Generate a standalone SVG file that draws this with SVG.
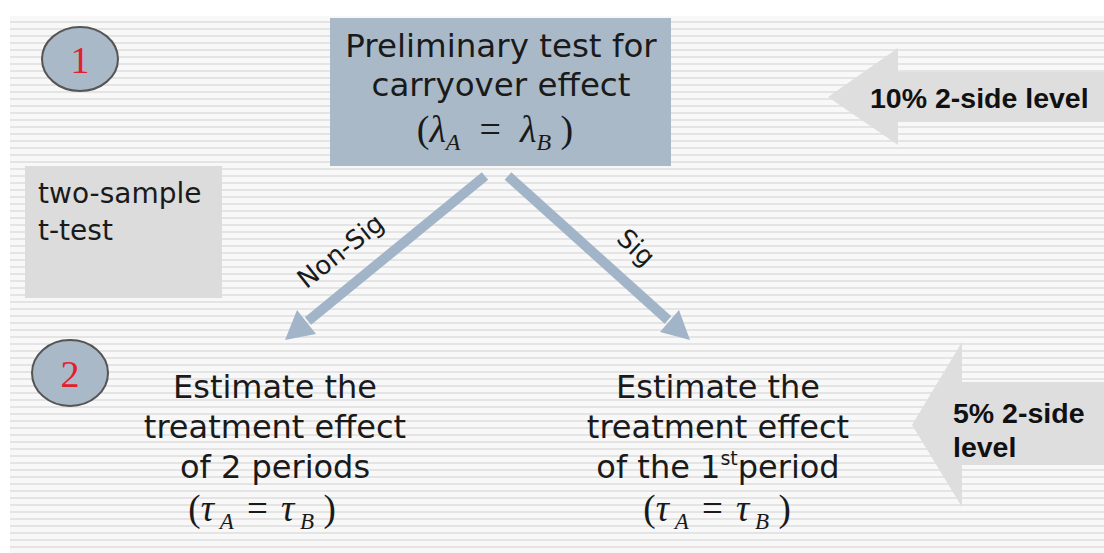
<svg xmlns="http://www.w3.org/2000/svg" width="1104" height="553" viewBox="0 0 1104 553">
<style>
.sans{font-family:"DejaVu Sans",Verdana,sans-serif;fill:#1a1a1a}
.math{font-family:"Liberation Serif","Times New Roman",serif;fill:#1a1a1a}
.bold{font-family:"Liberation Sans",Arial,sans-serif;font-weight:bold;fill:#111}
.conn{stroke:#a2b5c8;stroke-width:10;fill:none}
.head{fill:#a2b5c8}
.num{font-family:"Liberation Serif","Times New Roman",serif;fill:#e0202a;font-size:38px;text-anchor:middle}
.circ{fill:#a9b9c8;stroke:#555;stroke-width:2}
.level{fill:#dedede}
</style>
<defs>
<pattern id="stripes" width="8" height="7" patternUnits="userSpaceOnUse">
<rect width="8" height="7" fill="#f8f8f8"/>
<rect y="0" width="8" height="2" fill="#e4e4e4"/>
</pattern>
</defs>
<rect width="1104" height="553" fill="#ffffff"/>
<rect x="10" y="16" width="1094" height="537" fill="url(#stripes)"/>
<g id="connectors">
<line class="conn" x1="485" y1="176" x2="308" y2="321"/>
<polygon class="head" points="285,340 316,334 297,310"/>
<line class="conn" x1="508" y1="176" x2="668" y2="320"/>
<polygon class="head" points="690,340 660,332 679,310"/>
<text class="sans" font-size="26" text-anchor="middle" transform="translate(346,258) rotate(-38.5)">Non-Sig</text>
<text class="sans" font-size="26" text-anchor="middle" transform="translate(630,254) rotate(43)">Sig</text>
</g>
<g id="step1">
<ellipse class="circ" cx="80" cy="59" rx="38" ry="32"/>
<text class="num" x="80" y="73">1</text>
</g>
<g id="step2">
<ellipse class="circ" cx="70" cy="373" rx="38" ry="33"/>
<text class="num" x="70" y="387">2</text>
</g>
<g id="prelim">
<rect x="330" y="18" width="341" height="148" fill="#a9b9c8"/>
<text class="sans" font-size="32.5" text-anchor="middle" x="501" y="57">Preliminary test for</text>
<text class="sans" font-size="32.5" text-anchor="middle" x="501" y="96">carryover effect</text>
<text class="math" font-size="38" text-anchor="middle" x="495" y="142" xml:space="preserve">(<tspan font-style="italic">λ</tspan><tspan font-style="italic" font-size="24" dy="8">A</tspan><tspan dy="-8">  =  </tspan><tspan font-style="italic">λ</tspan><tspan font-style="italic" font-size="24" dy="8">B</tspan><tspan dy="-8"> )</tspan></text>
</g>
<g id="ttest">
<rect x="25" y="166" width="197" height="132" fill="#dcdcdc"/>
<text class="sans" font-size="28" x="38" y="203">two-sample</text>
<text class="sans" font-size="28" x="38" y="240">t-test</text>
</g>
<g id="level10">
<path class="level" d="M828,97 L898,48 L898,72 L1104,72 L1104,122 L898,122 L898,145 Z"/>
<text class="bold" font-size="28.5" x="870" y="108">10% 2-side level</text>
</g>
<g id="level5">
<path class="level" d="M912,425 L962,342 L962,382 L1104,382 L1104,465 L962,465 L962,507 Z"/>
<text class="bold" font-size="28.5" x="953" y="423">5% 2-side</text>
<text class="bold" font-size="28.5" x="953" y="457">level</text>
</g>
<g id="est2">
<text class="sans" font-size="32" text-anchor="middle" x="275" y="398">Estimate the</text>
<text class="sans" font-size="32" text-anchor="middle" x="275" y="438">treatment effect</text>
<text class="sans" font-size="32" text-anchor="middle" x="275" y="478">of 2 periods</text>
<text class="math" font-size="37" text-anchor="middle" x="262" y="521" xml:space="preserve">(<tspan font-style="italic">τ</tspan><tspan font-style="italic" font-size="23" dy="8"> A</tspan><tspan dy="-8" dx="4"> = </tspan><tspan font-style="italic" dx="4">τ</tspan><tspan font-style="italic" font-size="23" dy="8"> B</tspan><tspan dy="-8"> )</tspan></text>
</g>
<g id="est1">
<text class="sans" font-size="32" text-anchor="middle" x="718" y="398">Estimate the</text>
<text class="sans" font-size="32" text-anchor="middle" x="718" y="438">treatment effect</text>
<text class="sans" font-size="32" text-anchor="middle" x="718" y="478">of the 1<tspan font-size="19" dy="-13">st</tspan><tspan dy="13">period</tspan></text>
<text class="math" font-size="37" text-anchor="middle" x="717" y="521" xml:space="preserve">(<tspan font-style="italic">τ</tspan><tspan font-style="italic" font-size="23" dy="8"> A</tspan><tspan dy="-8" dx="4"> = </tspan><tspan font-style="italic" dx="4">τ</tspan><tspan font-style="italic" font-size="23" dy="8"> B</tspan><tspan dy="-8"> )</tspan></text>
</g>
</svg>
